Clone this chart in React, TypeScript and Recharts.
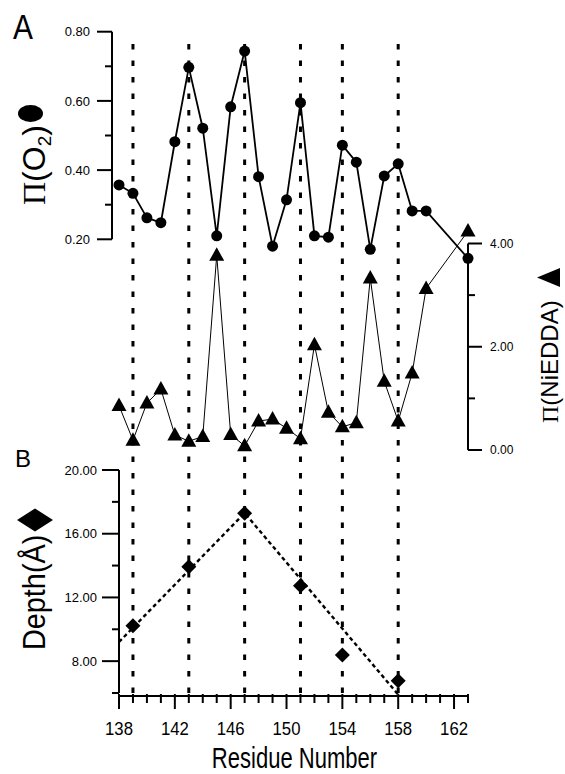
import React from 'react';
import { ComposedChart, Line, XAxis, YAxis, ReferenceLine } from 'recharts';

// residue numbers that were measured (161 and 162 are missing)
const residues = [138, 139, 140, 141, 142, 143, 144, 145, 146, 147, 148, 149, 150, 151, 152, 153, 154, 155, 156, 157, 158, 159, 160, 163];
const o2Values = [0.357, 0.333, 0.262, 0.248, 0.482, 0.697, 0.521, 0.21, 0.583, 0.744, 0.381, 0.18, 0.314, 0.595, 0.21, 0.206, 0.472, 0.423, 0.171, 0.383, 0.418, 0.282, 0.282, 0.145];
const niEddaValues = [0.86, 0.19, 0.91, 1.18, 0.29, 0.17, 0.26, 3.77, 0.3, 0.08, 0.56, 0.6, 0.42, 0.22, 2.04, 0.73, 0.45, 0.53, 3.33, 1.33, 0.56, 1.49, 3.13, 4.24];

const depthResidues = [139, 143, 147, 151, 154, 158];
const depthValues = [10.22, 13.93, 17.28, 12.74, 8.39, 6.77];
const fitResidues = [138, 147, 158];
const fitValues = [9.2, 17.3, 5.9];

const guideResidues = [139, 143, 147, 151, 154, 158];

const xTicks = [138, 139, 140, 141, 142, 143, 144, 145, 146, 147, 148, 149, 150, 151, 152, 153, 154, 155, 156, 157, 158, 159, 160, 161, 162, 163];
const xLabelTicks = [138, 142, 146, 150, 154, 158, 162];
const o2MajorTicks = [0.2, 0.4, 0.6, 0.8];
const o2MinorTicks = [0.3, 0.5, 0.7];
const niMajorTicks = [0, 2, 4];
const niMinorTicks = [1, 3];
const depthMajorTicks = [8, 12, 16, 20];
const depthMinorTicks = [6, 10, 14, 18];

const o2Data = residues.map((x, i) => ({ x, y: o2Values[i] }));
const niData = residues.map((x, i) => ({ x, y: niEddaValues[i] }));
const depthData = depthResidues.map((x, i) => ({ x, y: depthValues[i] }));
const fitData = fitResidues.map((x, i) => ({ x, y: fitValues[i] }));

// layout (pixels)
const W = 565;
const H = 774;
const PLOT_LEFT = 119;
const PLOT_RIGHT = 468;
const PLOT_TOP = 30;
const PLOT_BOTTOM = 696;
const X_MIN = 138;
const X_MAX = 163;
const PX_PER_RES = (PLOT_RIGHT - PLOT_LEFT) / (X_MAX - X_MIN);
const px = (n: number) => n / PX_PER_RES;

type Band = { lo: number; hi: number; pxLo: number; pxHi: number };
// each y scale only occupies part of the plot height
const O2_BAND: Band = { lo: 0.2, hi: 0.8, pxLo: 239.3, pxHi: 31.7 };
const NI_BAND: Band = { lo: 0, hi: 4, pxLo: 450, pxHi: 243.5 };
const DEPTH_BAND: Band = { lo: 6, hi: 20, pxLo: 693, pxHi: 470 };

const valueAt = (b: Band, p: number) => b.lo + ((b.pxLo - p) * (b.hi - b.lo)) / (b.pxLo - b.pxHi);
const domainOf = (b: Band): [number, number] => [valueAt(b, PLOT_BOTTOM), valueAt(b, PLOT_TOP)];

const FONT = '"Liberation Sans", Arial, sans-serif';
const SERIF = '"Liberation Serif", "Times New Roman", serif';

function yAxisLines(
  id: string,
  band: Band,
  axisX: number,
  side: 'left' | 'right',
  majors: number[],
  minors: number[],
  majorLen: number,
  fontSize: number,
  offset: number,
) {
  const dir = side === 'left' ? -1 : 1;
  const out: React.ReactNode[] = [
    <ReferenceLine
      key={`${id}-axis`}
      yAxisId={id}
      ifOverflow="visible"
      stroke="#000"
      strokeWidth={2}
      segment={[{ x: axisX, y: band.lo }, { x: axisX, y: band.hi }]}
    />,
  ];
  majors.forEach((v) => {
    out.push(
      <ReferenceLine
        key={`${id}-maj-${v}`}
        yAxisId={id}
        ifOverflow="visible"
        stroke="#000"
        strokeWidth={2}
        segment={[{ x: axisX + dir * px(majorLen), y: v }, { x: axisX, y: v }]}
        label={{ value: v.toFixed(2), position: side, offset, fontSize, fill: '#000', fontFamily: FONT }}
      />,
    );
  });
  minors.forEach((v) => {
    out.push(
      <ReferenceLine
        key={`${id}-min-${v}`}
        yAxisId={id}
        ifOverflow="visible"
        stroke="#000"
        strokeWidth={2}
        segment={[{ x: axisX + dir * px(7), y: v }, { x: axisX, y: v }]}
      />,
    );
  });
  return out;
}

const XTick = (props: any) => {
  const { x, y, payload } = props;
  const major = xLabelTicks.includes(payload.value);
  return (
    <g>
      <line x1={x} x2={x} y1={y - 2} y2={y + (major ? 13 : 7)} stroke="#000" strokeWidth={2} />
      {major && (
        <text
          transform={`translate(${x},${y + 39}) scale(0.93,1)`}
          textAnchor="middle"
          fontSize={18}
          fontFamily={FONT}
          fill="#000"
        >
          {payload.value}
        </text>
      )}
    </g>
  );
};

const CircleDot = (p: any) => <circle key={`c-${p.index}`} cx={p.cx} cy={p.cy} r={5.5} fill="#000" />;
const TriangleDot = (p: any) => (
  <polygon
    key={`t-${p.index}`}
    points={`${p.cx},${p.cy - 8} ${p.cx + 7.5},${p.cy + 5.5} ${p.cx - 7.5},${p.cy + 5.5}`}
    fill="#000"
  />
);
const DiamondDot = (p: any) => (
  <polygon
    key={`d-${p.index}`}
    points={`${p.cx - 7.5},${p.cy} ${p.cx},${p.cy - 7.5} ${p.cx + 7.5},${p.cy} ${p.cx},${p.cy + 7.5}`}
    fill="#000"
  />
);

const App: React.FC = () => {
  const guideTop = valueAt(DEPTH_BAND, 40);
  return (
    <div style={{ position: 'absolute', left: 0, top: 0, width: W, height: H, background: '#fff' }}>
      <ComposedChart
        width={W}
        height={H}
        margin={{ top: PLOT_TOP, right: W - PLOT_RIGHT, bottom: H - PLOT_BOTTOM - 30, left: PLOT_LEFT }}
      >
        <XAxis
          type="number"
          dataKey="x"
          domain={[X_MIN, X_MAX]}
          ticks={xTicks}
          interval={0}
          tickSize={0}
          tickMargin={0}
          tickLine={false}
          axisLine={{ stroke: '#000', strokeWidth: 2 }}
          tick={XTick}
          height={30}
        />
        <YAxis yAxisId="o2" type="number" domain={domainOf(O2_BAND)} hide />
        <YAxis yAxisId="ni" type="number" domain={domainOf(NI_BAND)} hide />
        <YAxis yAxisId="depth" type="number" domain={domainOf(DEPTH_BAND)} hide />

        {guideResidues.map((r) => (
          <ReferenceLine
            key={`guide-${r}`}
            yAxisId="depth"
            ifOverflow="visible"
            stroke="#000"
            strokeWidth={3}
            strokeDasharray="5.5 11"
            segment={[{ x: r, y: DEPTH_BAND.lo }, { x: r, y: guideTop }]}
          />
        ))}

        {yAxisLines('o2', O2_BAND, X_MIN - px(7), 'left', o2MajorTicks, o2MinorTicks, 15, 13, 7)}
        {yAxisLines('ni', NI_BAND, X_MAX, 'right', niMajorTicks, niMinorTicks, 14, 12, 8)}
        {yAxisLines('depth', DEPTH_BAND, X_MIN, 'left', depthMajorTicks, depthMinorTicks, 17, 13, 5)}

        <Line
          yAxisId="ni"
          data={niData}
          dataKey="y"
          stroke="#000"
          strokeWidth={1}
          dot={TriangleDot}
          isAnimationActive={false}
        />
        <Line
          yAxisId="o2"
          data={o2Data}
          dataKey="y"
          stroke="#000"
          strokeWidth={1.8}
          dot={CircleDot}
          isAnimationActive={false}
        />
        <Line
          yAxisId="depth"
          data={fitData}
          dataKey="y"
          stroke="#000"
          strokeWidth={2.4}
          strokeDasharray="4 3"
          dot={false}
          isAnimationActive={false}
        />
        <Line
          yAxisId="depth"
          data={depthData}
          dataKey="y"
          stroke="none"
          dot={DiamondDot}
          isAnimationActive={false}
        />
      </ComposedChart>

      <svg
        width={W}
        height={H}
        style={{ position: 'absolute', left: 0, top: 0, pointerEvents: 'none' }}
      >
        <text transform="translate(13,39) scale(0.83,1)" fontSize={36} fontFamily={FONT} fill="#000">
          A
        </text>
        <text x={15} y={467} fontSize={24} fontFamily={FONT} fill="#000">
          B
        </text>

        <text transform="translate(45,205) rotate(-90)" fontSize={32} fontFamily={FONT} fill="#000">
          <tspan fontFamily={SERIF}>Π</tspan>
          <tspan>(O</tspan>
          <tspan fontSize={19} dy={6}>2</tspan>
          <tspan dy={-6}>)</tspan>
        </text>
        <ellipse cx={30.5} cy={113.5} rx={12.5} ry={8.5} fill="#000" />

        <text transform="translate(558,423) rotate(-90)" fontSize={24} fontFamily={FONT} fill="#000">
          <tspan fontFamily={SERIF}>Π</tspan>
          <tspan>(NiEDDA)</tspan>
        </text>
        <polygon points="537,277.5 560,268 560,287" fill="#000" />

        <text transform="translate(45,650) rotate(-90) scale(0.93,1)" fontSize={31} fontFamily={FONT} fill="#000">
          Depth(Å)
        </text>
        <polygon points="17,520 35,508.5 53,520 35,531.5" fill="#000" />

        <text
          transform="translate(294.5,768) scale(0.76,1)"
          textAnchor="middle"
          fontSize={29}
          fontFamily={FONT}
          fill="#000"
        >
          Residue Number
        </text>
      </svg>
    </div>
  );
};

export default App;
